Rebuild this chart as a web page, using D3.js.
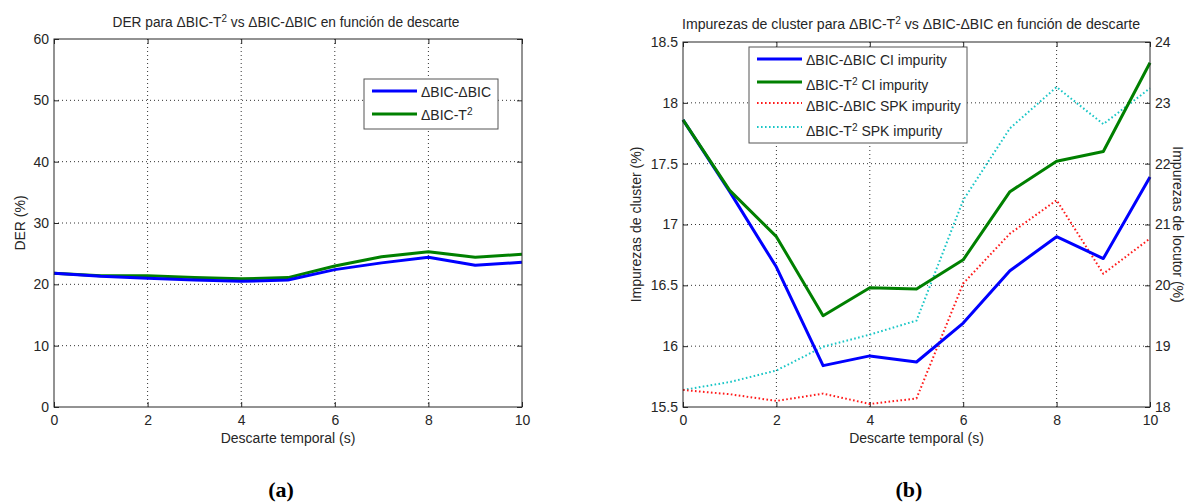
<!DOCTYPE html>
<html>
<head>
<meta charset="utf-8">
<script src="https://cdn.jsdelivr.net/npm/d3@7"></script>
<style>
  html, body { margin: 0; padding: 0; background: #fff; }
  svg { display: block; }
  text { font-family: "Liberation Sans", Arial, Helvetica, sans-serif; fill: #262626; }
  text.panel { font-family: "Liberation Serif", "Times New Roman", Times, serif; font-weight: bold; fill: #000; }
</style>
</head>
<body>
<svg id="chart" width="1187" height="504"></svg>
<script>
// ---------------- DATA ----------------
const xValues = [0, 1, 2, 3, 4, 5, 6, 7, 8, 9, 10];

// (a) DER (%)
const derBicBic = [21.8, 21.3, 21.0, 20.7, 20.5, 20.7, 22.4, 23.5, 24.4, 23.1, 23.6];
const derBicT2  = [21.8, 21.4, 21.4, 21.1, 20.9, 21.1, 23.0, 24.5, 25.3, 24.4, 24.9];

// (b) cluster impurity (%), left axis
const ciBicBic = [17.86, 17.27, 16.65, 15.84, 15.92, 15.87, 16.19, 16.62, 16.90, 16.72, 17.39];
const ciBicT2  = [17.86, 17.28, 16.90, 16.25, 16.48, 16.47, 16.71, 17.27, 17.52, 17.60, 18.33];
// (b) speaker impurity (%), right axis
const spkBicBic = [18.28, 18.21, 18.10, 18.22, 18.05, 18.14, 20.03, 20.85, 21.40, 20.19, 20.77];
const spkBicT2  = [18.28, 18.41, 18.60, 18.99, 19.19, 19.42, 21.40, 22.58, 23.26, 22.65, 23.24];

// tick labels
const xTicks = [0, 2, 4, 6, 8, 10];
const derTicks = [0, 10, 20, 30, 40, 50, 60];
const ciTicks = [15.5, 16, 16.5, 17, 17.5, 18, 18.5];
const spkTicks = [18, 19, 20, 21, 22, 23, 24];

// text
const titleA = ["DER para ΔBIC-T", "2", " vs ΔBIC-ΔBIC en función de descarte"];
const titleB = ["Impurezas de cluster para ΔBIC-T", "2", " vs ΔBIC-ΔBIC en función de descarte"];
const xLabel = "Descarte temporal (s)";
const yLabelA = "DER (%)";
const yLabelB = "Impurezas de cluster (%)";
const yLabelB2 = "Impurezas de locutor (%)";
const legendA = [["ΔBIC-ΔBIC", ""], ["ΔBIC-T", "2"]];
const legendB = [["ΔBIC-ΔBIC CI impurity", "", ""], ["ΔBIC-T", "2", " CI impurity"],
                 ["ΔBIC-ΔBIC SPK impurity", "", ""], ["ΔBIC-T", "2", " SPK impurity"]];
const panelLabels = ["(a)", "(b)"];

// ---------------- STYLE ----------------
const C_BLUE = "#0000ff", C_GREEN = "#008000", C_RED = "#ff1a1a", C_CYAN = "#19c6c6";
const FS = 14;

const svg = d3.select("#chart");

function supText(g, parts, x, y, anchor) {
  const t = g.append("text").attr("x", x).attr("y", y)
    .attr("text-anchor", anchor).attr("font-size", FS);
  t.append("tspan").text(parts[0]);
  if (parts[1]) {
    t.append("tspan").attr("dy", -5).attr("font-size", FS * 0.72).text(parts[1]);
    t.append("tspan").attr("dy", 5).text(parts[2] || "");
  }
  return t;
}

function gridAndBox(g, x, y, yTicks, L, R, T, B) {
  const gg = g.append("g").attr("stroke", "#333").attr("stroke-width", 1)
    .attr("stroke-dasharray", "1,3");
  xTicks.filter(v => v !== x.domain()[0] && v !== x.domain()[1]).forEach(v => {
    gg.append("line").attr("x1", x(v)).attr("x2", x(v)).attr("y1", T).attr("y2", B);
  });
  yTicks.filter(v => v !== y.domain()[0] && v !== y.domain()[1]).forEach(v => {
    gg.append("line").attr("x1", L).attr("x2", R).attr("y1", y(v)).attr("y2", y(v));
  });
}

function box(g, L, R, T, B) {
  g.append("rect").attr("x", L).attr("y", T).attr("width", R - L).attr("height", B - T)
    .attr("fill", "none").attr("stroke", "#262626").attr("stroke-width", 1);
}

function styleAxis(a) {
  a.select(".domain").remove();
  a.selectAll(".tick line").attr("stroke", "#262626");
  a.selectAll(".tick text").attr("font-size", FS)
    .style("font-family", '"Liberation Sans", Arial, sans-serif').style("fill", "#262626");
}

function drawLine(g, x, y, vals, color, dotted) {
  const line = d3.line().x((d, i) => x(xValues[i])).y(d => y(d));
  const p = g.append("path").datum(vals).attr("d", line).attr("fill", "none")
    .attr("stroke", color).attr("stroke-linejoin", "round");
  if (dotted) p.attr("stroke-width", 2).attr("stroke-dasharray", "1.6,2.4");
  else p.attr("stroke-width", 3);
}

// ================= PANEL (a) =================
{
  const L = 54, R = 522, T = 39, B = 407;
  const g = svg.append("g");
  const x = d3.scaleLinear().domain([0, 10]).range([L, R]);
  const y = d3.scaleLinear().domain([0, 60]).range([B, T]);
  gridAndBox(g, x, y, derTicks, L, R, T, B);

  const ax = g.append("g").attr("transform", `translate(0,${B})`)
    .call(d3.axisBottom(x).tickValues(xTicks).tickSizeInner(-5).tickSizeOuter(0).tickPadding(8));
  styleAxis(ax);
  const axT = g.append("g").attr("transform", `translate(0,${T})`)
    .call(d3.axisTop(x).tickValues(xTicks).tickSizeInner(-5).tickSizeOuter(0).tickFormat(""));
  styleAxis(axT);
  const ay = g.append("g").attr("transform", `translate(${L},0)`)
    .call(d3.axisLeft(y).tickValues(derTicks).tickSizeInner(-5).tickSizeOuter(0).tickPadding(5));
  styleAxis(ay);
  const ayR = g.append("g").attr("transform", `translate(${R},0)`)
    .call(d3.axisRight(y).tickValues(derTicks).tickSizeInner(-5).tickSizeOuter(0).tickFormat(""));
  styleAxis(ayR);

  drawLine(g, x, y, derBicT2, C_GREEN, false);
  drawLine(g, x, y, derBicBic, C_BLUE, false);
  box(g, L, R, T, B);

  supText(g, titleA, 286, 27, "middle").attr("textLength", 347).attr("lengthAdjust", "spacingAndGlyphs");
  g.append("text").attr("x", (L + R) / 2).attr("y", 443).attr("text-anchor", "middle")
    .attr("font-size", FS).text(xLabel);
  g.append("text").attr("transform", `translate(25,${(T + B) / 2}) rotate(-90)`)
    .attr("text-anchor", "middle").attr("font-size", FS).text(yLabelA);

  const lg = g.append("g");
  lg.append("rect").attr("x", 364).attr("y", 79).attr("width", 134).attr("height", 50)
    .attr("fill", "#fff").attr("stroke", "#555").attr("stroke-width", 1);
  const cols = [C_BLUE, C_GREEN];
  const rowsY = [91, 114];
  legendA.forEach((e, i) => {
    lg.append("line").attr("x1", 372).attr("x2", 417).attr("y1", rowsY[i]).attr("y2", rowsY[i])
      .attr("stroke", cols[i]).attr("stroke-width", 3);
    supText(lg, e, 421, rowsY[i] + 6, "start");
  });

  svg.append("text").attr("class", "panel").attr("x", 281).attr("y", 497)
    .attr("text-anchor", "middle").attr("font-size", 22).text(panelLabels[0]);
}

// ================= PANEL (b) =================
{
  const L = 683, R = 1150, T = 42, B = 407;
  const g = svg.append("g");
  const x = d3.scaleLinear().domain([0, 10]).range([L, R]);
  const y = d3.scaleLinear().domain([15.5, 18.5]).range([B, T]);
  const y2 = d3.scaleLinear().domain([18, 24]).range([B, T]);
  gridAndBox(g, x, y, ciTicks, L, R, T, B);

  const ax = g.append("g").attr("transform", `translate(0,${B})`)
    .call(d3.axisBottom(x).tickValues(xTicks).tickSizeInner(-5).tickSizeOuter(0).tickPadding(8));
  styleAxis(ax);
  const axT = g.append("g").attr("transform", `translate(0,${T})`)
    .call(d3.axisTop(x).tickValues(xTicks).tickSizeInner(-5).tickSizeOuter(0).tickFormat(""));
  styleAxis(axT);
  const ay = g.append("g").attr("transform", `translate(${L},0)`)
    .call(d3.axisLeft(y).tickValues(ciTicks).tickSizeInner(-5).tickSizeOuter(0).tickPadding(5)
      .tickFormat(d3.format("~g")));
  styleAxis(ay);
  const ayR = g.append("g").attr("transform", `translate(${R},0)`)
    .call(d3.axisRight(y2).tickValues(spkTicks).tickSizeInner(-5).tickSizeOuter(0).tickPadding(5)
      .tickFormat(d3.format("~g")));
  styleAxis(ayR);

  drawLine(g, x, y2, spkBicT2, C_CYAN, true);
  drawLine(g, x, y2, spkBicBic, C_RED, true);
  drawLine(g, x, y, ciBicBic, C_BLUE, false);
  drawLine(g, x, y, ciBicT2, C_GREEN, false);
  box(g, L, R, T, B);

  supText(g, titleB, 911, 29, "middle").attr("textLength", 458).attr("lengthAdjust", "spacingAndGlyphs");
  g.append("text").attr("x", (L + R) / 2).attr("y", 443).attr("text-anchor", "middle")
    .attr("font-size", FS).text(xLabel);
  g.append("text").attr("transform", `translate(641,${(T + B) / 2}) rotate(-90)`)
    .attr("text-anchor", "middle").attr("font-size", FS).text(yLabelB);
  g.append("text").attr("transform", `translate(1173,${(T + B) / 2}) rotate(90)`)
    .attr("text-anchor", "middle").attr("font-size", FS).text(yLabelB2);

  const lg = g.append("g");
  lg.append("rect").attr("x", 749).attr("y", 47).attr("width", 218).attr("height", 96)
    .attr("fill", "#fff").attr("stroke", "#555").attr("stroke-width", 1);
  const cols = [C_BLUE, C_GREEN, C_RED, C_CYAN];
  const dotted = [false, false, true, true];
  const rowsY = [59, 82, 103, 127];
  const textY = [65, 90, 111, 136];
  legendB.forEach((e, i) => {
    const ln = lg.append("line").attr("x1", 757).attr("x2", 802).attr("y1", rowsY[i]).attr("y2", rowsY[i])
      .attr("stroke", cols[i]);
    if (dotted[i]) ln.attr("stroke-width", 2).attr("stroke-dasharray", "1.6,2.4");
    else ln.attr("stroke-width", 3);
    supText(lg, e, 806, textY[i], "start");
  });

  svg.append("text").attr("class", "panel").attr("x", 909).attr("y", 497)
    .attr("text-anchor", "middle").attr("font-size", 22).text(panelLabels[1]);
}
</script>
</body>
</html>
